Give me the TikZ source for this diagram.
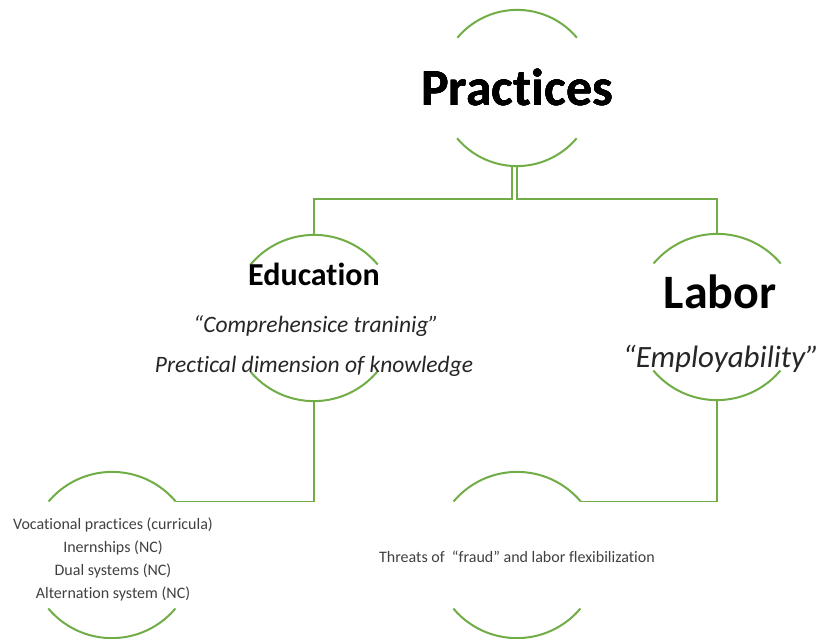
\documentclass[tikz,border=0pt]{standalone}
\usepackage{fontspec}
\setmainfont{Carlito}[Ligatures={TeX,NoCommon}]
\usepackage{xcolor}
\usetikzlibrary{positioning}
\definecolor{leaf}{HTML}{70AD47}

% top and bottom rims of a ring node
\newcommand\rims[2]{%
  \draw[rim] (#1.40) arc[start angle=40, end angle=140, radius=#2];
  \draw[rim] (#1.220) arc[start angle=220, end angle=320, radius=#2];}

\begin{document}
\begin{tikzpicture}[x=1pt, y=1pt,
  ring/.style={circle, minimum size=#1, inner sep=0pt},
  rim/.style={draw=leaf, line width=2pt},
  link/.style={draw=leaf, line width=1.5pt},
  head/.style={font=\fontsize{#1}{#1}\selectfont\bfseries, anchor=base},
  quote/.style={font=\fontsize{#1}{#1}\selectfont\itshape, text=black!85, anchor=base},
  small/.style={font=\fontsize{16}{23}\selectfont, text=black!75, align=center}
]
\useasboundingbox (0,0) rectangle (821,-639);
% rings
\node[ring=156] (prac) at (517,-88) {};
\node[ring=166] (edu) at (314,-318) {};
\node[ring=166] (lab) at (717,-317) {};
\node[ring=166] (voc) at (112,-555) {};
\node[ring=166] (thr) at (517,-555) {};
\foreach \n/\r in {prac/78, edu/83, lab/83, voc/83, thr/83}
  \rims{\n}{\r}
% titles and quotes
\node[head=52] (pracT) at (517,-106) {Practices};
\node[head=32] (eduT) at (314,-285) {Education};
\node[quote=23.5] (eduA) at (316,-332) {“Comprehensice traninig”};
\node[quote=23.5] (eduB) at (314,-372) {Prectical dimension of knowledge};
\node[head=48] (labT) at (720,-308) {Labor};
\node[quote=31] (labA) at (721,-367) {“Employability”};
% lists
\node[small] (vocT) at (113,-559) {Vocational practices (curricula)\\Inernships (NC)\\Dual systems (NC)\\Alternation system (NC)};
\node[small, anchor=base] (thrT) at (517,-562) {Threats of \ “fraud” and labor flexibilization};
% connectors
\draw[link] ([xshift=-5pt]prac.south) -- ++(0,-33) -| (edu.north);
\draw[link] (prac.south) -- ++(0,-33) -| (lab.north);
\draw[link] (edu.south) |- (voc.40);
\draw[link] (lab.south) |- (thr.40);
\end{tikzpicture}
\end{document}
